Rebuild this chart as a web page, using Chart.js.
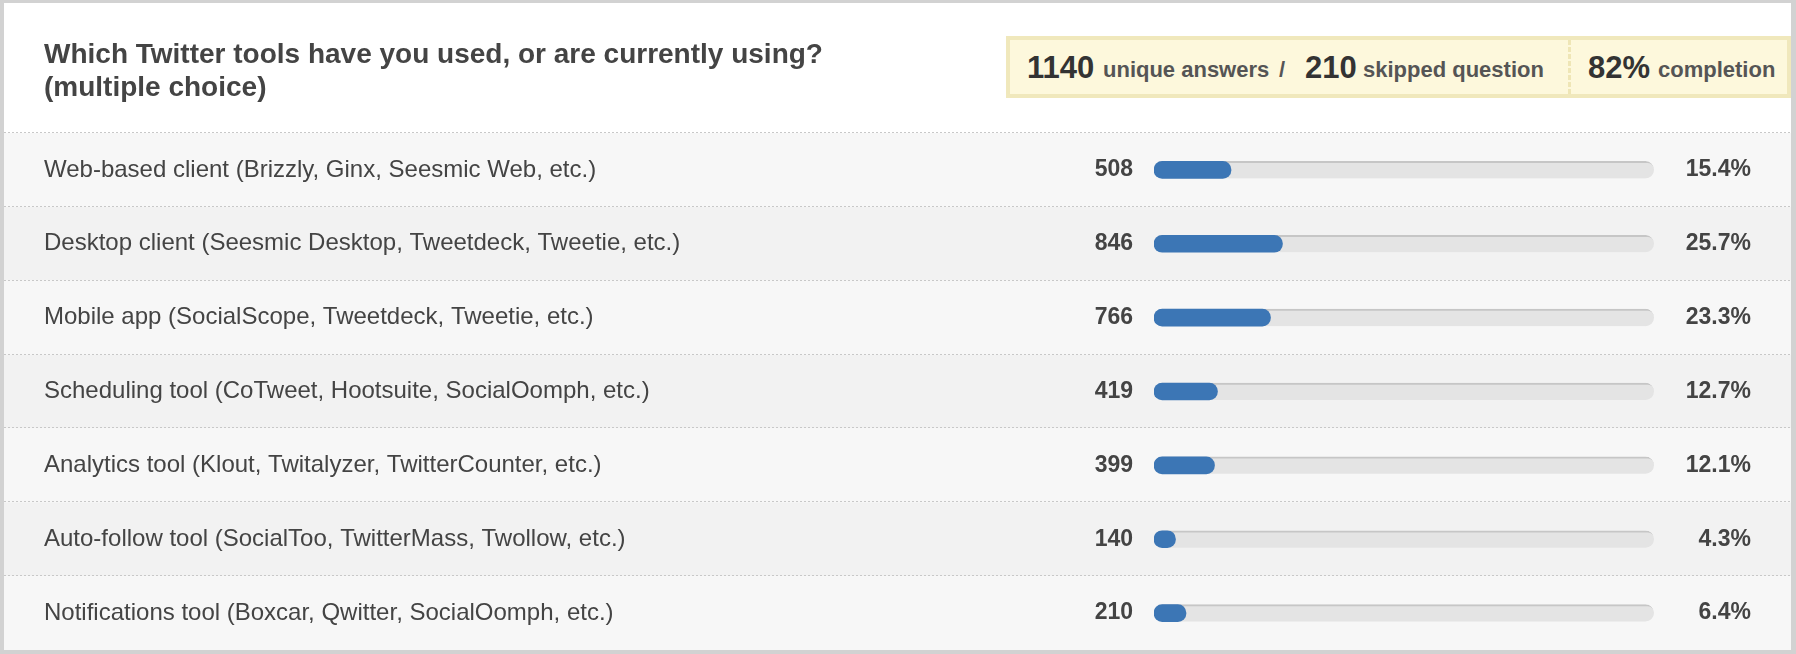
<!DOCTYPE html>
<html>
<head>
<meta charset="utf-8">
<script src="https://cdn.jsdelivr.net/npm/chart.js@4.4.0/dist/chart.umd.min.js"></script>
<style>
  body { margin: 0; background: #d2d2d2; font-family: "Liberation Sans", Arial, Helvetica, sans-serif; }
  #panel { position: absolute; left: 4px; top: 3px; width: 1787px; height: 647px; background: #fff; }
  #chart { position: absolute; left: 0; top: 0; }
  .title { position: absolute; left: 44px; top: 37px; font-size: 28px; line-height: 33px; font-weight: bold; color: #444; white-space: nowrap; }
  .banner { position: absolute; left: 1006px; top: 36px; width: 785px; height: 62px; box-sizing: border-box;
            border: 4px solid #f0e8bc; background: #fdf8dc; }
  .t { position: absolute; line-height: 1; white-space: nowrap; font-weight: bold; }
  .big { font-size: 31px; color: #333; top: 52px; }
  .small { font-size: 22px; color: #555; top: 59px; }
  .divider { position: absolute; left: 1568px; top: 40px; width: 3px; height: 54px;
             background: repeating-linear-gradient(to bottom, #efe6b6 0 5px, transparent 5px 7px); }
</style>
</head>
<body>
<div id="panel"></div>
<canvas id="chart" width="1796" height="654"></canvas>
<div class="title">Which Twitter tools have you used, or are currently using?<br>(multiple choice)</div>
<div class="banner"></div>
<span class="t big" style="left:1027px">1140</span>
<span class="t small" style="left:1103px">unique answers</span>
<span class="t small" style="left:1279px">/</span>
<span class="t big" style="left:1305px">210</span>
<span class="t small" style="left:1363px">skipped question</span>
<div class="divider"></div>
<span class="t big" style="left:1588px">82%</span>
<span class="t small" style="left:1658px">completion</span>
<script>
const categories = [
  'Web-based client (Brizzly, Ginx, Seesmic Web, etc.)',
  'Desktop client (Seesmic Desktop, Tweetdeck, Tweetie, etc.)',
  'Mobile app (SocialScope, Tweetdeck, Tweetie, etc.)',
  'Scheduling tool (CoTweet, Hootsuite, SocialOomph, etc.)',
  'Analytics tool (Klout, Twitalyzer, TwitterCounter, etc.)',
  'Auto-follow tool (SocialToo, TwitterMass, Twollow, etc.)',
  'Notifications tool (Boxcar, Qwitter, SocialOomph, etc.)'
];
const counts = [508, 846, 766, 419, 399, 140, 210];
const percents = [15.4, 25.7, 23.3, 12.7, 12.1, 4.3, 6.4];
const track = [100, 100, 100, 100, 100, 100, 100];

const font = 'Liberation Sans, Arial, Helvetica, sans-serif';

// striped rows + dotted separators behind the bars
const rowBands = {
  id: 'rowBands',
  beforeDraw(chart) {
    const { ctx, scales: { y } } = chart;
    const step = y.getPixelForValue(1) - y.getPixelForValue(0);
    ctx.save();
    categories.forEach((c, i) => {
      const top = y.getPixelForValue(i) - step / 2;
      ctx.fillStyle = i % 2 ? '#f2f2f2' : '#f7f7f7';
      ctx.fillRect(4, top, 1787, Math.min(step, 650 - top));
      ctx.strokeStyle = '#c8c8c8';
      ctx.lineWidth = 1;
      ctx.setLineDash([2, 2]);
      ctx.beginPath();
      ctx.moveTo(4, Math.round(top) - 0.5);
      ctx.lineTo(1791, Math.round(top) - 0.5);
      ctx.stroke();
    });
    ctx.restore();
  }
};

const hiddenGrid = { display: false, drawTicks: false };

// fixed axis widths, and no extra top/bottom padding from tick labels
function fitTo(width) {
  return s => { s.width = width; s.paddingTop = 0; s.paddingBottom = 0; };
}

new Chart(document.getElementById('chart'), {
  type: 'bar',
  data: {
    labels: categories,
    datasets: [{
      data: percents,
      backgroundColor: '#3c76b5',
      barThickness: 17,
      borderRadius: 9,
      borderSkipped: false,
      grouped: false,
      order: 0
    }, {
      data: track,
      backgroundColor: '#e4e4e4',
      borderColor: '#c6c6c6',
      borderWidth: { top: 2, right: 0, bottom: 0, left: 0 },
      barThickness: 17,
      borderRadius: 9,
      borderSkipped: false,
      grouped: false,
      order: 1
    }]
  },
  options: {
    indexAxis: 'y',
    responsive: false,
    animation: false,
    events: [],
    layout: { padding: { left: 44, right: 45, top: 133, bottom: 4 } },
    plugins: { legend: { display: false }, tooltip: { enabled: false } },
    scales: {
      x: { display: false, min: 0, max: 100 },
      y: {
        position: 'left', weight: 1, offset: true,
        grid: hiddenGrid, border: { display: false },
        ticks: { crossAlign: 'far', padding: 0, color: '#444', font: { family: font, size: 24 } },
        afterFit: fitTo(1010)
      },
      yCount: {
        type: 'category', axis: 'y', position: 'left', weight: 0, offset: true,
        grid: hiddenGrid, border: { display: false },
        ticks: { crossAlign: 'near', padding: 21, color: '#444', font: { family: font, size: 23, weight: 'bold' },
                 callback: (v, i) => counts[i] },
        afterFit: fitTo(100)
      },
      yPct: {
        type: 'category', axis: 'y', position: 'right', offset: true,
        grid: hiddenGrid, border: { display: false },
        ticks: { crossAlign: 'far', padding: 0, color: '#444', font: { family: font, size: 23, weight: 'bold' },
                 callback: (v, i) => percents[i].toFixed(1) + '%' },
        afterFit: fitTo(97)
      }
    }
  },
  plugins: [rowBands]
});
</script>
</body>
</html>
